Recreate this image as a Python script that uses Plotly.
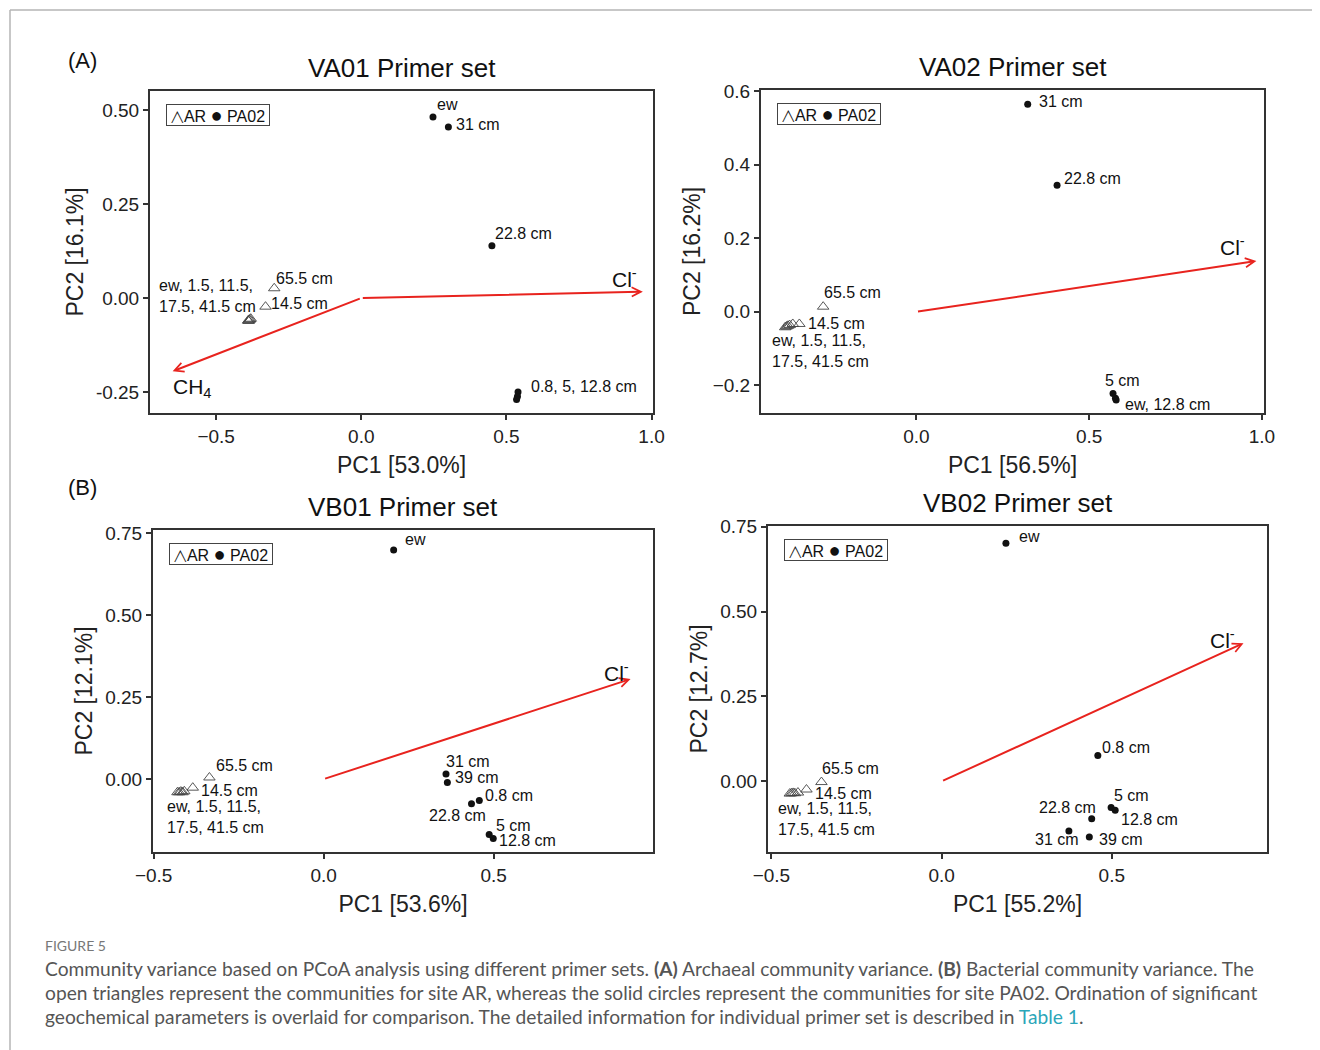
import plotly.graph_objects as go

# The page body has an 8px margin, so the figure is sized to the window minus it
OFF = 8
W, H = 1320 - OFF, 1050 - OFF
FONT = "Liberation Sans, Arial, DejaVu Sans, sans-serif"
RED = "#e8231e"

# ---------------- data ----------------
panel_titles = ["VA01 Primer set", "VA02 Primer set", "VB01 Primer set", "VB02 Primer set"]
x_titles = ["PC1 [53.0%]", "PC1 [56.5%]", "PC1 [53.6%]", "PC1 [55.2%]"]
y_titles = ["PC2 [16.1%]", "PC2 [16.2%]", "PC2 [12.1%]", "PC2 [12.7%]"]

# VA01
va01_ar_x = [-0.390, -0.386, -0.381, -0.388, -0.383, -0.330, -0.300]
va01_ar_y = [-0.060, -0.058, -0.055, -0.061, -0.057, -0.023, 0.026]
va01_pa_x = [0.247, 0.300, 0.450, 0.540, 0.538, 0.535]
va01_pa_y = [0.482, 0.455, 0.139, -0.250, -0.262, -0.270]
va01_lab_text = ["ew", "31 cm", "22.8 cm", "0.8, 5, 12.8 cm", "65.5 cm", "14.5 cm",
                 "ew, 1.5, 11.5,<br>17.5, 41.5 cm"]
va01_lab_x = [0.253, 0.318, 0.455, 0.578, -0.300, -0.317, -0.705]
va01_lab_y = [0.515, 0.463, 0.172, -0.236, 0.052, -0.014, 0.005]
va01_env = ["Cl<sup>-</sup>", "CH<sub>4</sub>"]
va01_env_x = [0.970, -0.650]
va01_env_y = [0.017, -0.195]
va01_env_lx = [0.906, -0.580]
va01_env_ly = [0.052, -0.240]

# VA02
va02_ar_x = [-0.380, -0.376, -0.372, -0.367, -0.358, -0.339, -0.270]
va02_ar_y = [-0.042, -0.040, -0.038, -0.036, -0.033, -0.033, 0.014]
va02_pa_x = [0.322, 0.407, 0.569, 0.576, 0.578]
va02_pa_y = [0.564, 0.344, -0.222, -0.235, -0.240]
va02_lab_text = ["31 cm", "22.8 cm", "5 cm", "ew, 12.8 cm", "65.5 cm", "14.5 cm",
                 "ew, 1.5, 11.5,<br>17.5, 41.5 cm"]
va02_lab_x = [0.350, 0.422, 0.540, 0.597, -0.272, -0.320, -0.424]
va02_lab_y = [0.573, 0.362, -0.188, -0.251, 0.052, -0.033, -0.106]
va02_env = ["Cl<sup>-</sup>"]
va02_env_x = [0.984]
va02_env_y = [0.138]
va02_env_lx = [0.914]
va02_env_ly = [0.179]

# VB01
vb01_ar_x = [-0.430, -0.425, -0.420, -0.415, -0.410, -0.385, -0.336]
vb01_ar_y = [-0.040, -0.040, -0.038, -0.040, -0.037, -0.026, 0.005]
vb01_pa_x = [0.206, 0.360, 0.364, 0.458, 0.435, 0.487, 0.499]
vb01_pa_y = [0.698, 0.016, -0.010, -0.065, -0.075, -0.169, -0.181]
vb01_lab_text = ["ew", "31 cm", "39 cm", "0.8 cm", "22.8 cm", "5 cm", "12.8 cm",
                 "65.5 cm", "14.5 cm", "ew, 1.5, 11.5,<br>17.5, 41.5 cm"]
vb01_lab_x = [0.234, 0.355, 0.381, 0.469, 0.303, 0.501, 0.509, -0.323, -0.366, -0.467]
vb01_lab_y = [0.729, 0.055, 0.005, -0.049, -0.112, -0.140, -0.188, 0.041, -0.036, -0.115]
vb01_env = ["Cl<sup>-</sup>"]
vb01_env_x = [0.903]
vb01_env_y = [0.305]
vb01_env_lx = [0.862]
vb01_env_ly = [0.327]

# VB02
vb02_ar_x = [-0.446, -0.441, -0.436, -0.431, -0.422, -0.397, -0.353]
vb02_ar_y = [-0.036, -0.035, -0.034, -0.035, -0.033, -0.024, -0.002]
vb02_pa_x = [0.189, 0.459, 0.498, 0.510, 0.441, 0.374, 0.434]
vb02_pa_y = [0.701, 0.076, -0.077, -0.085, -0.110, -0.146, -0.164]
vb02_lab_text = ["ew", "0.8 cm", "5 cm", "12.8 cm", "22.8 cm", "31 cm", "39 cm",
                 "65.5 cm", "14.5 cm", "ew, 1.5, 11.5,<br>17.5, 41.5 cm"]
vb02_lab_x = [0.222, 0.466, 0.500, 0.522, 0.279, 0.268, 0.456, -0.356, -0.379, -0.487]
vb02_lab_y = [0.721, 0.099, -0.041, -0.112, -0.077, -0.171, -0.171, 0.037, -0.036, -0.112]
vb02_env = ["Cl<sup>-</sup>"]
vb02_env_x = [0.887]
vb02_env_y = [0.407]
vb02_env_lx = [0.824]
vb02_env_ly = [0.420]

# ticks
xtick_vals = [[-0.5, 0.0, 0.5, 1.0], [0.0, 0.5, 1.0], [-0.5, 0.0, 0.5], [-0.5, 0.0, 0.5]]
xtick_text = [["\u22120.5", "0.0", "0.5", "1.0"], ["0.0", "0.5", "1.0"],
              ["\u22120.5", "0.0", "0.5"], ["\u22120.5", "0.0", "0.5"]]
ytick_vals = [[-0.25, 0.0, 0.25, 0.5], [-0.2, 0.0, 0.2, 0.4, 0.6],
              [0.0, 0.25, 0.5, 0.75], [0.0, 0.25, 0.5, 0.75]]
ytick_text = [["-0.25", "0.00", "0.25", "0.50"], ["\u22120.2", "0.0", "0.2", "0.4", "0.6"],
              ["0.00", "0.25", "0.50", "0.75"], ["0.00", "0.25", "0.50", "0.75"]]

# ---------------- layout geometry (page pixels) ----------------
boxes = [(150, 653, 91, 413), (761, 1264, 90, 413), (153, 653, 530, 852), (768, 1267, 526, 852)]
x_ranges = [[-0.728, 1.005], [-0.45, 1.006], [-0.502, 0.969], [-0.51, 0.956]]
y_ranges = [[-0.306, 0.551], [-0.275, 0.603], [-0.222, 0.759], [-0.208, 0.752]]

panels = [
    (va01_ar_x, va01_ar_y, va01_pa_x, va01_pa_y, va01_lab_text, va01_lab_x, va01_lab_y,
     va01_env, va01_env_x, va01_env_y, va01_env_lx, va01_env_ly),
    (va02_ar_x, va02_ar_y, va02_pa_x, va02_pa_y, va02_lab_text, va02_lab_x, va02_lab_y,
     va02_env, va02_env_x, va02_env_y, va02_env_lx, va02_env_ly),
    (vb01_ar_x, vb01_ar_y, vb01_pa_x, vb01_pa_y, vb01_lab_text, vb01_lab_x, vb01_lab_y,
     vb01_env, vb01_env_x, vb01_env_y, vb01_env_lx, vb01_env_ly),
    (vb02_ar_x, vb02_ar_y, vb02_pa_x, vb02_pa_y, vb02_lab_text, vb02_lab_x, vb02_lab_y,
     vb02_env, vb02_env_x, vb02_env_y, vb02_env_lx, vb02_env_ly),
]

def px(x):
    return (x - OFF) / W

def py(y):
    return 1 - (y - OFF) / H

fig = go.Figure()
annotations = []
layout_axes = {}

for i, p in enumerate(panels):
    ar_x, ar_y, pa_x, pa_y, lt, lx, ly, env, ex, ey, elx, ely = p
    n = "" if i == 0 else str(i + 1)
    xa, ya = "x" + n, "y" + n
    fig.add_trace(go.Scatter(x=ar_x, y=ar_y, xaxis=xa, yaxis=ya, mode="markers",
                             marker=dict(symbol="triangle-up-open", size=10, color="#444",
                                         line=dict(width=0.9, color="#444")),
                             hoverinfo="skip"))
    fig.add_trace(go.Scatter(x=pa_x, y=pa_y, xaxis=xa, yaxis=ya, mode="markers",
                             marker=dict(symbol="circle", size=7, color="#111"),
                             hoverinfo="skip"))
    x0, x1, y0, y1 = boxes[i]
    axis_common = dict(showline=True, mirror=True, linecolor="#333", linewidth=2,
                       ticks="outside", ticklen=5, tickwidth=1.5, tickcolor="#333",
                       showgrid=False, zeroline=False, automargin=False,
                       tickfont=dict(family=FONT, size=19, color="#222"))
    layout_axes["xaxis" + n] = dict(axis_common, domain=[px(x0), px(x1)], range=x_ranges[i],
                                    anchor=ya, tickvals=xtick_vals[i], ticktext=xtick_text[i],
                                    title=dict(text=x_titles[i], standoff=11,
                                               font=dict(family=FONT, size=23, color="#222")))
    layout_axes["yaxis" + n] = dict(axis_common, domain=[py(y1), py(y0)], range=y_ranges[i],
                                    anchor=xa, tickvals=ytick_vals[i], ticktext=ytick_text[i],
                                    title=dict(text=y_titles[i], standoff=6,
                                               font=dict(family=FONT, size=23, color="#222")))
    # point labels
    for t, x, y in zip(lt, lx, ly):
        annotations.append(dict(x=x, y=y, xref=xa, yref=ya, text=t, showarrow=False,
                                xanchor="left", yanchor="middle", align="left",
                                font=dict(family=FONT, size=16, color="#111")))
    # environmental vectors
    for t, x, y, lxx, lyy in zip(env, ex, ey, elx, ely):
        annotations.append(dict(x=x, y=y, xref=xa, yref=ya, ax=0, ay=0, axref=xa, ayref=ya,
                                text="", showarrow=True, arrowhead=5, arrowsize=0.9,
                                arrowwidth=2, arrowcolor=RED, standoff=0, startstandoff=0))
        annotations.append(dict(x=lxx, y=lyy, xref=xa, yref=ya, text=t, showarrow=False,
                                xanchor="center", yanchor="middle",
                                font=dict(family=FONT, size=21, color="#111")))
    # legend box
    annotations.append(dict(x=px(x0 + 16), y=py(y0 + 24), xref="paper", yref="paper",
                            text="<span style='font-size:17px'>\u25b3</span>AR "
                                 "<span style='font-size:20px'>\u25cf</span> PA02",
                            showarrow=False, xanchor="left", yanchor="middle",
                            bordercolor="#444", borderwidth=1, borderpad=2,
                            width=98, height=16,
                            font=dict(family=FONT, size=16, color="#111")))
    # panel title
    annotations.append(dict(x=px((x0 + x1) / 2), y=py(y0 - 23), xref="paper", yref="paper",
                            text=panel_titles[i], showarrow=False, xanchor="center",
                            yanchor="middle", font=dict(family=FONT, size=26, color="#111")))

annotations.append(dict(x=px(66), y=py(60), xref="paper", yref="paper", text="(A)",
                        showarrow=False, xanchor="left", yanchor="middle",
                        font=dict(family=FONT, size=22, color="#111")))
annotations.append(dict(x=px(66), y=py(487), xref="paper", yref="paper", text="(B)",
                        showarrow=False, xanchor="left", yanchor="middle",
                        font=dict(family=FONT, size=22, color="#111")))

# caption
CAP = "Lato, Open Sans, sans-serif"
cap_lines = [
    "Community variance based on PCoA analysis using different primer sets. <b>(A)</b> Archaeal community variance. <b>(B)</b> Bacterial community variance. The",
    "open triangles represent the communities for site AR, whereas the solid circles represent the communities for site PA02. Ordination of significant",
    "geochemical parameters is overlaid for comparison. The detailed information for individual primer set is described in <span style='color:#2ba6b9'>Table 1</span>.",
]
annotations.append(dict(x=px(43), y=py(945), xref="paper", yref="paper", text="FIGURE 5",
                        showarrow=False, xanchor="left", yanchor="middle",
                        font=dict(family=CAP, size=14, color="#777")))
for k, line in enumerate(cap_lines):
    annotations.append(dict(x=px(43), y=py(968 + 24 * k), xref="paper", yref="paper", text=line,
                            showarrow=False, xanchor="left", yanchor="middle",
                            font=dict(family=CAP, size=19.2, color="#555")))

shapes = [
    dict(type="line", xref="paper", yref="paper", x0=px(10), x1=1, y0=py(10), y1=py(10),
         line=dict(color="#b5b5b5", width=1.5)),
    dict(type="line", xref="paper", yref="paper", x0=px(10), x1=px(10), y0=0, y1=py(10),
         line=dict(color="#b5b5b5", width=1.5)),
]

fig.update_layout(width=W, height=H, margin=dict(l=0, r=0, t=0, b=0),
                  paper_bgcolor="white", plot_bgcolor="white", showlegend=False,
                  annotations=annotations, shapes=shapes, **layout_axes)

fig.write_html("out.html")
